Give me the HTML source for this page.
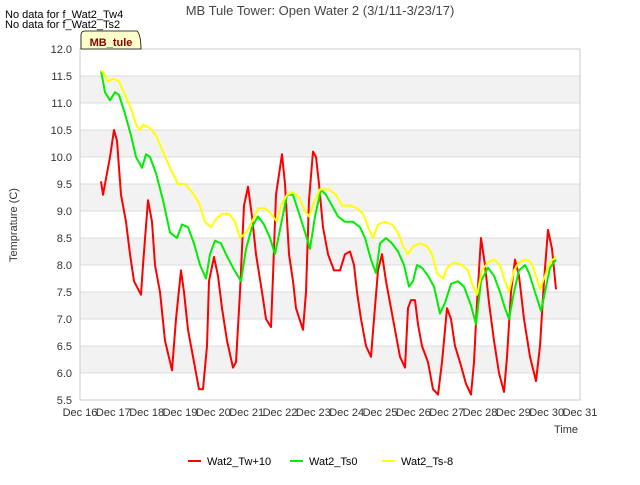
<!DOCTYPE html>
<html><head><meta charset="utf-8"><style>
body{margin:0;background:#fff;font-family:"Liberation Sans",sans-serif}
svg text{font-family:"Liberation Sans",sans-serif}
</style></head><body>
<svg id="chart" width="640" height="480" viewBox="0 0 640 480">
<rect width="640" height="480" fill="#fff"/>
<g id="bands"></g><g id="grid"></g>
<rect x="80" y="49" width="500" height="351" fill="none" stroke="#ccc"/>
<g id="yticks" font-size="11" fill="#333" text-anchor="end"></g>
<g id="xticks" font-size="11" fill="#333" text-anchor="middle"></g>
<g id="series"></g>
<text x="320" y="15" font-size="13" fill="#444" text-anchor="middle">MB Tule Tower: Open Water 2 (3/1/11-3/23/17)</text>
<text x="5" y="18" font-size="11" fill="#000">No data for f_Wat2_Tw4</text>
<text x="5" y="28" font-size="11" fill="#000">No data for f_Wat2_Ts2</text>
<path d="M81 49 V35 Q81 31 85 31 H137 Q141 35 141 49 Z" fill="#ffffcc" stroke="#000" stroke-width="0.8"/>
<text x="111" y="46" font-size="11" font-weight="bold" fill="#8b0000" text-anchor="middle">MB_tule</text>
<text transform="translate(17,225) rotate(-90)" font-size="11" fill="#333" text-anchor="middle">Temprature (C)</text>
<text x="578" y="433" font-size="11" fill="#333" text-anchor="end">Time</text>
<g id="legend" font-size="11" fill="#000"></g>
</svg>
<script>
const NS="http://www.w3.org/2000/svg";
const yTicks=[5.5,6,6.5,7,7.5,8,8.5,9,9.5,10,10.5,11,11.5,12];
const xTickLabels=["Dec 16","Dec 17","Dec 18","Dec 19","Dec 20","Dec 21","Dec 22","Dec 23","Dec 24","Dec 25","Dec 26","Dec 27","Dec 28","Dec 29","Dec 30","Dec 31"];
const seriesNames=["Wat2_Tw+10","Wat2_Ts0","Wat2_Ts-8"];
const seriesColors=["#ff0000","#00ee00","#ffff00"];
const redDays=[0.63,0.69,0.90,1.02,1.11,1.23,1.38,1.50,1.62,1.83,1.89,2.04,2.16,2.25,2.40,2.55,2.76,2.88,3.03,3.12,3.24,3.42,3.57,3.69,3.81,3.87,4.02,4.14,4.26,4.41,4.59,4.68,4.80,4.92,5.04,5.16,5.28,5.46,5.58,5.73,5.79,5.88,6.06,6.15,6.27,6.39,6.48,6.69,6.78,6.87,6.99,7.08,7.17,7.29,7.44,7.62,7.80,7.95,8.10,8.22,8.31,8.43,8.58,8.73,8.82,8.94,9.06,9.18,9.30,9.45,9.60,9.75,9.84,9.93,10.05,10.14,10.26,10.44,10.59,10.74,10.86,11.01,11.13,11.25,11.40,11.58,11.73,11.82,11.91,12.03,12.15,12.27,12.42,12.57,12.72,12.81,12.93,13.05,13.17,13.32,13.50,13.68,13.80,13.92,14.04,14.16,14.28];
const redVals=[9.55,9.3,10.0,10.5,10.3,9.3,8.8,8.2,7.7,7.45,8.0,9.2,8.8,8.0,7.5,6.6,6.05,7.0,7.9,7.5,6.8,6.2,5.7,5.7,6.5,7.7,8.15,7.8,7.2,6.6,6.1,6.2,7.5,9.1,9.45,8.9,8.2,7.5,7.0,6.85,7.8,9.3,10.05,9.5,8.2,7.7,7.2,6.8,7.5,9.2,10.1,10.0,9.5,8.7,8.2,7.9,7.9,8.2,8.25,8.0,7.5,7.0,6.5,6.3,7.0,7.9,8.2,7.7,7.3,6.8,6.3,6.1,7.2,7.35,7.35,6.9,6.5,6.2,5.7,5.6,6.2,7.2,7.0,6.5,6.2,5.8,5.6,6.2,7.3,8.5,8.0,7.3,6.6,6.0,5.65,6.3,7.5,8.1,7.8,7.0,6.3,5.85,6.5,7.7,8.65,8.3,7.55];
const greenDays=[0.63,0.75,0.90,1.05,1.17,1.35,1.53,1.68,1.86,1.98,2.10,2.28,2.49,2.70,2.91,3.06,3.24,3.42,3.60,3.78,3.90,4.05,4.23,4.38,4.59,4.83,4.98,5.16,5.34,5.52,5.70,5.85,6.03,6.21,6.39,6.60,6.78,6.90,7.05,7.23,7.38,7.56,7.74,7.95,8.19,8.40,8.55,8.73,8.88,9.00,9.18,9.36,9.54,9.72,9.87,9.99,10.11,10.26,10.44,10.62,10.80,10.95,11.13,11.34,11.52,11.73,11.88,12.03,12.24,12.42,12.60,12.75,12.87,13.02,13.17,13.35,13.47,13.65,13.83,13.95,14.10,14.28];
const greenVals=[11.6,11.2,11.05,11.2,11.15,10.8,10.4,10.0,9.8,10.05,10.0,9.7,9.2,8.6,8.5,8.75,8.7,8.4,8.0,7.75,8.2,8.45,8.4,8.2,7.95,7.7,8.3,8.7,8.9,8.75,8.5,8.2,8.75,9.3,9.3,8.9,8.55,8.3,8.9,9.4,9.3,9.1,8.9,8.8,8.8,8.7,8.5,8.1,7.85,8.4,8.5,8.4,8.25,8.0,7.6,7.7,8.0,7.95,7.8,7.6,7.1,7.3,7.65,7.7,7.6,7.25,6.9,7.7,7.95,7.8,7.5,7.2,7.0,7.5,7.9,8.0,7.85,7.5,7.15,7.5,7.95,8.1];
const yellowDays=[0.63,0.72,0.84,0.99,1.17,1.35,1.53,1.68,1.80,1.89,2.07,2.28,2.49,2.70,2.94,3.15,3.36,3.57,3.75,3.93,4.08,4.26,4.47,4.65,4.80,4.98,5.16,5.34,5.55,5.73,5.91,6.03,6.21,6.39,6.57,6.75,6.87,7.05,7.20,7.47,7.68,7.86,8.10,8.31,8.49,8.64,8.79,8.94,9.15,9.36,9.54,9.69,9.84,9.99,10.20,10.41,10.56,10.71,10.89,11.01,11.22,11.46,11.64,11.79,11.91,12.06,12.24,12.42,12.60,12.72,12.87,13.02,13.17,13.38,13.53,13.65,13.80,13.95,14.10,14.28];
const yellowVals=[11.6,11.55,11.4,11.45,11.4,11.15,10.9,10.6,10.5,10.6,10.55,10.4,10.1,9.8,9.5,9.5,9.35,9.15,8.8,8.7,8.85,8.95,8.95,8.8,8.5,8.6,8.8,9.05,9.05,8.95,8.8,9.1,9.3,9.35,9.25,9.0,8.9,9.2,9.4,9.4,9.3,9.1,9.1,9.05,8.95,8.7,8.5,8.75,8.8,8.75,8.6,8.35,8.2,8.35,8.4,8.35,8.2,7.85,7.75,7.95,8.05,8.0,7.9,7.6,7.45,7.9,8.05,8.1,8.0,7.75,7.5,7.9,8.05,8.1,8.05,7.85,7.55,7.8,8.05,8.15];
const X0=80,X1=580,Y0=400,Y1=49;
const xScale=d=>X0+d*(X1-X0)/15;
const yScale=v=>Y0-(v-5.5)*(Y0-Y1)/6.5;
function mk(tag,attrs,parent){const e=document.createElementNS(NS,tag);for(const k in attrs)e.setAttribute(k,attrs[k]);parent.appendChild(e);return e;}
const bands=document.getElementById('bands'),grid=document.getElementById('grid');
for(let i=0;i<yTicks.length-1;i++){
  if(i%2===1){const r=mk('rect',{x:X0,y:yScale(yTicks[i+1]),width:X1-X0,height:yScale(yTicks[i])-yScale(yTicks[i+1]),fill:'#f2f2f2'},bands);
  
  }
}
const yt=document.getElementById('yticks');
yTicks.forEach(v=>{
  const l=mk('line',{x1:X0,x2:X1,y1:yScale(v),y2:yScale(v),stroke:'#dcdcdc'},grid);
  
  
  const t=mk('text',{x:X0-8,y:yScale(v)+4},yt);t.textContent=v.toFixed(1);
  
  
});
const xt=document.getElementById('xticks');
xTickLabels.forEach((s,i)=>{
  const t=mk('text',{x:xScale(i),y:416},xt);t.textContent=s;
  
  
});
const sg=document.getElementById('series');
const data=[[redDays,redVals],[greenDays,greenVals],[yellowDays,yellowVals]];
data.forEach((d,si)=>{
  const pts=d[0].map((x,i)=>xScale(x).toFixed(1)+','+yScale(d[1][i]).toFixed(1)).join(' ');
  const p=mk('polyline',{points:pts,fill:'none',stroke:seriesColors[si],'stroke-width':2,'stroke-linejoin':'round'},sg);
  
  
});
const lg=document.getElementById('legend');
const lx=[188,290,382];
seriesNames.forEach((n,i)=>{
  const l=mk('line',{x1:lx[i],x2:lx[i]+13,y1:461,y2:461,stroke:seriesColors[i],'stroke-width':2},lg);
  
  
  const t=mk('text',{x:lx[i]+19,y:465},lg);t.textContent=n;
  
  
});
</script>
</body></html>
